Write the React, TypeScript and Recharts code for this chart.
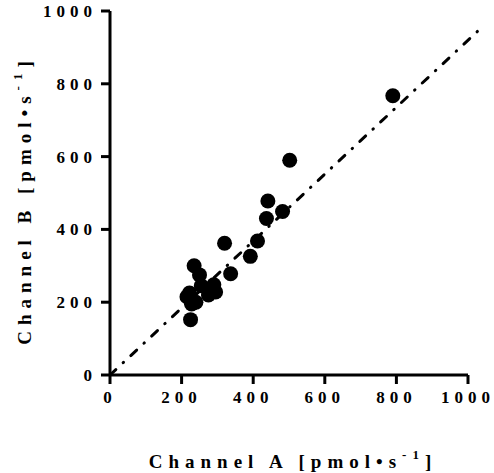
import React from "react";
import {
  ReferenceLine,
  Scatter,
  ScatterChart,
  XAxis,
  YAxis,
} from "recharts";

// readings per sample, pmol/s
const channelA = [790, 502, 441, 482, 437, 412, 392, 320, 337, 235, 250, 255, 290, 295, 275, 222, 215, 240, 228, 225];
const channelB = [767, 590, 478, 449, 430, 368, 326, 362, 278, 300, 275, 245, 248, 228, 220, 225, 215, 200, 195, 152];
const axisTicks = [0, 200, 400, 600, 800, 1000];
const fitLine = [
  { x: 0, y: 0 },
  { x: 1045, y: 961 },
];

const points = channelA.map((a, i) => ({ a, b: channelB[i] }));

const FONT = "Liberation Serif";

function YTick(props: any) {
  const { x, y, payload } = props;
  return (
    <text x={x} y={y} dy={6} textAnchor="end" style={{ fontFamily: FONT, fontWeight: 700, fontSize: 17, letterSpacing: 5 }} fill="#000">
      {payload.value}
    </text>
  );
}

function XTick(props: any) {
  const { x, y, payload } = props;
  return (
    <text x={x} y={y} dy={15} textAnchor="middle" style={{ fontFamily: FONT, fontWeight: 700, fontSize: 17, letterSpacing: 5 }} fill="#000">
      {payload.value}
    </text>
  );
}

function AxisTitle({ letter, x, y, rotate }: { letter: string; x: number; y: number; rotate?: boolean }) {
  return (
    <text
      x={x}
      y={y}
      textAnchor="middle"
      transform={rotate ? `rotate(-90 ${x} ${y})` : undefined}
      style={{ fontFamily: FONT, fontWeight: 700, fontSize: 19, letterSpacing: 6 }}
      fill="#000"
    >
      {`Channel ${letter} [pmol`}
      <tspan style={{ fontSize: 19 }}>{"\u2022"}</tspan>
      {"s"}
      <tspan style={{ fontSize: 13 }} dy={-9}>-1</tspan>
      <tspan dy={9}>]</tspan>
    </text>
  );
}

export default function App() {
  return (
    <div style={{ position: "absolute", left: 0, top: 0, background: "#fff" }}>
      <ScatterChart width={494} height={473} margin={{ top: 11, right: 26, bottom: 0, left: 0 }}>
        <XAxis
          type="number"
          dataKey="a"
          domain={[0, 1000]}
          ticks={axisTicks}
          interval={0}
          height={98}
          tickSize={9}
          tickMargin={4}
          axisLine={{ stroke: "#000", strokeWidth: 3 }}
          tickLine={{ stroke: "#000", strokeWidth: 3 }}
          tick={<XTick />}
          label={{ content: () => <AxisTitle letter="A" x={293} y={468} /> }}
        />
        <YAxis
          type="number"
          dataKey="b"
          domain={[0, 1000]}
          ticks={axisTicks}
          interval={0}
          width={110}
          tickSize={9}
          tickMargin={4}
          axisLine={{ stroke: "#000", strokeWidth: 3 }}
          tickLine={{ stroke: "#000", strokeWidth: 3 }}
          tick={<YTick />}
          label={{ content: () => <AxisTitle letter="B" x={31} y={200} rotate /> }}
        />
        <ReferenceLine
          segment={fitLine}
          ifOverflow="visible"
          stroke="#000"
          strokeWidth={3}
          strokeLinecap="round"
          strokeDasharray="8 10 0.5 10"
        />
        <Scatter
          data={points}
          isAnimationActive={false}
          shape={(p: any) => <circle cx={p.cx} cy={p.cy} r={7.5} fill="#000" />}
        />
      </ScatterChart>
    </div>
  );
}
